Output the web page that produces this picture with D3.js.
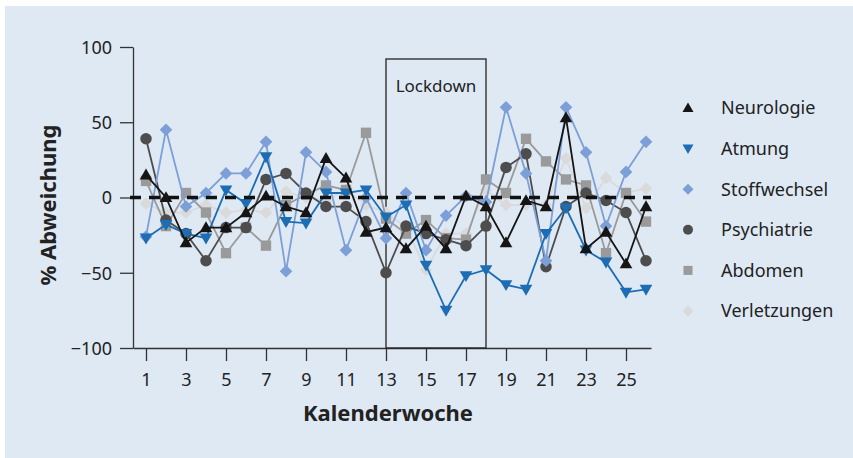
<!DOCTYPE html>
<html>
<head>
<meta charset="utf-8">
<script src="https://cdn.jsdelivr.net/npm/d3@7"></script>
<style>
  body { margin: 0; background: #fff; }
  svg { display: block; font-family: "Noto Sans", sans-serif; }
</style>
</head>
<body>
<div id="chart"></div>
<script>
// data
var weeks = d3.range(1, 27);
var xTicks = [1, 3, 5, 7, 9, 11, 13, 15, 17, 19, 21, 23, 25];
var yTicks = [-100, -50, 0, 50, 100];

var neurologie   = [15, 0, -30, -20, -20, -10, 1, -6, -10, 26, 13, -23, -20, -34, -19, -34, 1, -6, -30, -2, -6, 53, -34, -23, -44, -6];
var atmung       = [-27, -18, -24, -27, 5, -4, 27, -16, -17, 3, 3, 5, -13, -5, -45, -75, -52, -48, -58, -61, -24, -7, -35, -43, -63, -61];
var stoffwechsel = [-26, 45, -6, 3, 16, 16, 37, -49, 30, 17, -35, 0, -27, 3, -35, -12, 1, -3, 60, 16, -42, 60, 30, -19, 17, 37];
var psychiatrie  = [39, -15, -24, -42, -20, -20, 12, 16, 3, -6, -6, -16, -50, -19, -24, -28, -32, -19, 20, 29, -46, -6, 3, -2, -10, -42];
var abdomen      = [11, -19, 3, -10, -37, -20, -32, -5, 2, 8, 5, 43, -14, -24, -15, -27, -28, 12, 3, 39, 24, 12, 8, -37, 3, -16];
var verletzungen = [-4, -10, -10, -5, -10, -8, -10, 4, 0, -2, 5, -5, -10, -20, -48, -24, -24, 5, -5, -5, -5, 26, -7, 13, 3, 6];

var seriesNames  = ["Neurologie", "Atmung", "Stoffwechsel", "Psychiatrie", "Abdomen", "Verletzungen"];
var seriesValues = [neurologie, atmung, stoffwechsel, psychiatrie, abdomen, verletzungen];
var colors  = ["#151515", "#1c6db3", "#7d9fd7", "#4d4d4d", "#9a9a9a", "#dadada"];
var symbols = ["up", "down", "diamond", "circle", "square", "diamond"];

var W = 853, H = 458;

var svg = d3.select("#chart").append("svg")
    .attr("width", W)
    .attr("height", H);

// panel background
svg.append("rect")
    .attr("x", 5).attr("y", 6)
    .attr("width", W - 5).attr("height", H - 6)
    .attr("fill", "#dfe9f4");

// scales
var x = d3.scaleLinear().domain([0.35, 26.25]).range([133, 651]);
var y = d3.scaleLinear().domain([-100, 100]).range([348, 47]);

// axes
var xAxis = svg.append("g")
    .attr("transform", "translate(0,348)")
    .call(d3.axisBottom(x).tickValues(xTicks).tickSize(13).tickSizeOuter(0));
xAxis.selectAll("text").attr("dy", 0).attr("y", 38);

var yAxis = svg.append("g")
    .attr("transform", "translate(133,0)")
    .call(d3.axisLeft(y).tickValues(yTicks).tickSize(13).tickSizeOuter(0));
yAxis.selectAll("text").attr("x", -21).attr("dy", "0.35em");

svg.selectAll(".tick text")
    .attr("font-size", 18)
    .attr("font-family", "Noto Sans, sans-serif")
    .attr("fill", "#222");
svg.selectAll(".domain, .tick line").attr("stroke", "#333").attr("stroke-width", 1.3);

// axis titles
svg.append("text")
    .attr("x", 388).attr("y", 421)
    .attr("text-anchor", "middle")
    .attr("font-size", 22).attr("font-weight", "bold")
    .attr("fill", "#222")
    .text("Kalenderwoche");

svg.append("text")
    .attr("transform", "translate(56,205) rotate(-90)")
    .attr("text-anchor", "middle")
    .attr("font-size", 22).attr("font-weight", "bold")
    .attr("fill", "#222")
    .text("% Abweichung");

// lockdown box
svg.append("rect")
    .attr("x", x(13)).attr("y", 59)
    .attr("width", x(18) - x(13)).attr("height", y(-100) - 59)
    .attr("fill", "none")
    .attr("stroke", "#222").attr("stroke-width", 1.3);

svg.append("text")
    .attr("x", (x(13) + x(18)) / 2).attr("y", 92)
    .attr("text-anchor", "middle")
    .attr("font-size", 17).attr("fill", "#222")
    .text("Lockdown");

// marker shapes
function marker(sel, kind, color, s) {
  if (kind == "circle") {
    sel.append("circle").attr("r", s * 0.5).attr("fill", color);
  } else if (kind == "square") {
    sel.append("rect").attr("x", -s * 0.45).attr("y", -s * 0.45)
      .attr("width", s * 0.9).attr("height", s * 0.9).attr("fill", color);
  } else if (kind == "diamond") {
    var d = s * 0.55;
    sel.append("path").attr("d", "M0," + (-d) + "L" + d + ",0L0," + d + "L" + (-d) + ",0Z").attr("fill", color);
  } else if (kind == "up") {
    sel.append("path").attr("d", "M0," + (-s * 0.55) + "L" + (s * 0.55) + "," + (s * 0.4) + "L" + (-s * 0.55) + "," + (s * 0.4) + "Z").attr("fill", color);
  } else {
    sel.append("path").attr("d", "M0," + (s * 0.55) + "L" + (s * 0.55) + "," + (-s * 0.4) + "L" + (-s * 0.55) + "," + (-s * 0.4) + "Z").attr("fill", color);
  }
}

var line = d3.line()
    .x(function(d, i) { return x(weeks[i]); })
    .y(function(d) { return y(d); });

// draw from last to first so Neurologie ends on top
for (var k = seriesNames.length - 1; k >= 0; k--) {
  var g = svg.append("g");
  g.append("path")
    .datum(seriesValues[k])
    .attr("d", line)
    .attr("fill", "none")
    .attr("stroke", colors[k])
    .attr("stroke-width", 1.8);
  g.selectAll(".pt")
    .data(seriesValues[k])
    .enter().append("g")
    .attr("transform", function(d, i) { return "translate(" + x(weeks[i]) + "," + y(d) + ")"; })
    .each(function() { marker(d3.select(this), symbols[k], colors[k], 11.5); });
}

// zero line
svg.append("line")
    .attr("x1", 130).attr("x2", 651)
    .attr("y1", y(0)).attr("y2", y(0))
    .attr("stroke", "#111")
    .attr("stroke-width", 3.5)
    .attr("stroke-dasharray", "11,8");

// legend
var legend = svg.append("g");
seriesNames.forEach(function(name, i) {
  var row = legend.append("g").attr("transform", "translate(688," + (108 + i * 40.6) + ")");
  var m = row.append("g");
  marker(m, symbols[i], colors[i], 10);
  row.append("text")
    .attr("x", 33).attr("dy", "0.35em")
    .attr("font-size", 18).attr("fill", "#222")
    .text(name);
});
</script>
</body>
</html>
